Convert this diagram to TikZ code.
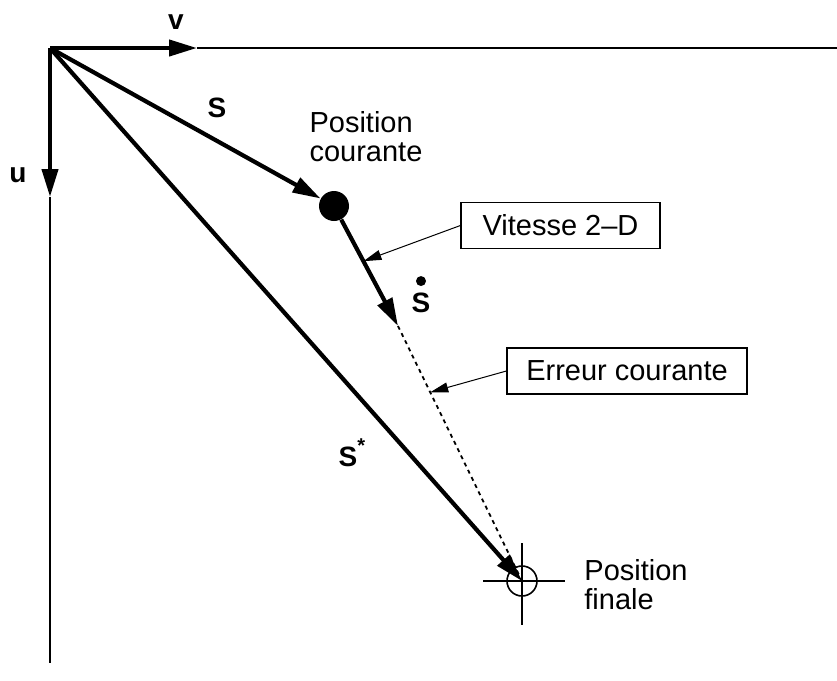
\documentclass[tikz,border=0pt]{standalone}
\usepackage{fontspec}
\setmainfont{Liberation Sans}
\usepackage{tikz}
\usetikzlibrary{arrows.meta, positioning, shapes.geometric}

\begin{document}
\begin{tikzpicture}[
    x=0.5pt, y=-0.5pt,
    vec/.style={-{Triangle[length=14pt, width=8pt]}, line width=2.1pt},
    axe/.style={line width=1.1pt},
    callout/.style={-{Triangle[length=9pt, width=5pt]}, line width=0.5pt},
    box/.style={draw, line width=0.6pt, minimum height=23pt, inner sep=0pt,
                font=\fontsize{14.5}{16}\selectfont},
    txt/.style={align=left, inner sep=0pt, font=\fontsize{14.5}{14.5}\selectfont},
    sym/.style={inner sep=0pt, font=\fontsize{14}{15}\selectfont\bfseries}
]
\useasboundingbox (0,0) rectangle (837,681);

\coordinate (o) at (50,48);
\coordinate (vtip) at (197,48);
\coordinate (vend) at (837,48);
\coordinate (utip) at (50,197);
\coordinate (uend) at (50,663);

% axes
\draw[vec] (o) -- (vtip);
\draw[axe] (vtip) -- (vend);
\draw[vec] (o) -- (utip);
\draw[axe] (utip) -- (uend);
\node[sym] (lv) at (176,22) {v};
\node[sym] (lu) at (18,175) {u};

% positions
\node[circle, fill, minimum size=15pt, inner sep=0pt] (pc) at (334,206) {};
\node[circle, draw, line width=0.8pt, minimum size=15pt, inner sep=0pt] (pf) at (522,581) {};
\draw[line width=0.8pt] (483,581) -- (565,581);
\draw[line width=0.8pt] (522,543) -- (522,625);

\node[txt] (lpc) at (366,137) {Position\\courante};
\node[txt] (lpf) at (636,585) {Position\\finale};

% vecteurs
\coordinate (vv) at (398,326);
\draw[vec] (o) -- (pc);
\draw[vec] (o) -- (pf.center);
\draw[vec] (pc) -- (vv);
\draw[line width=0.9pt, dash pattern=on 2pt off 2pt] (vv) -- (pf.center);

\node[sym] (ls) at (217,108) {S};
\node[sym] (lss) at (348,453) {S\rlap{\raisebox{7pt}{\fontsize{10}{10}\selectfont*}}};
\node[sym, anchor=base] (lsd) at (421,312) {S};
\fill ([yshift=5.5pt]lsd.north) circle (2.5pt);

% encadres
\node[box, minimum width=99.5pt] (vit) at (560.5,225.5) {Vitesse 2--D};
\node[box, minimum width=120pt] (err) at (627,371) {Erreur courante};

\path (pc.center) -- (vv) coordinate[pos=0.46] (c1);
\path (vv) -- (pf.center) coordinate[pos=0.26] (c2);
\draw[callout] (vit.west) -- (c1);
\draw[callout] (err.west) -- (c2);
\end{tikzpicture}
\end{document}
